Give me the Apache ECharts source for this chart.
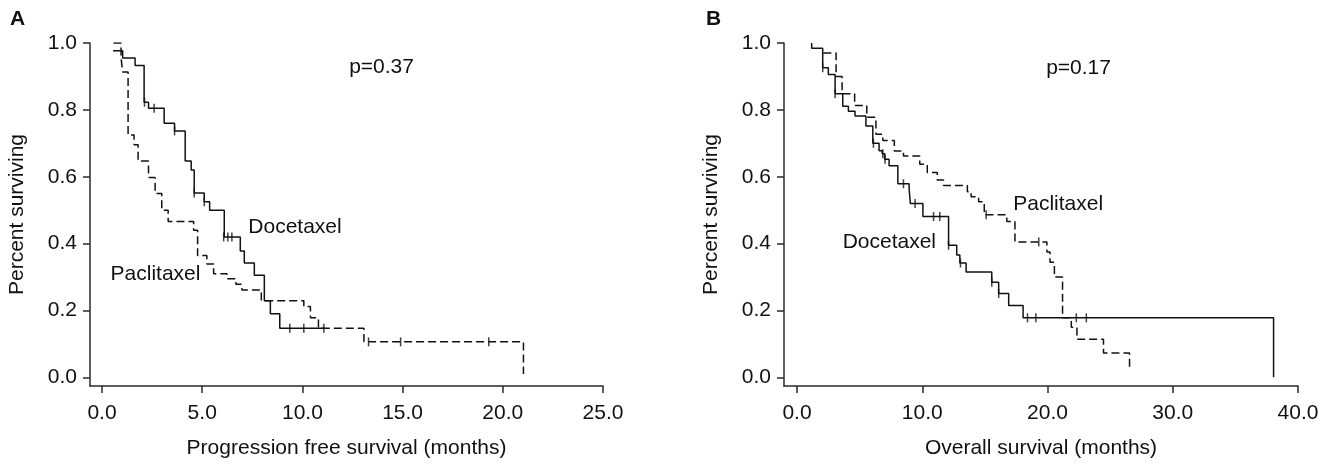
<!DOCTYPE html>
<html><head><meta charset="utf-8">
<script src="https://cdn.jsdelivr.net/npm/echarts@6/dist/echarts.min.js"></script>
<style>html,body{margin:0;padding:0;background:#fff}#c{width:1333px;height:464px}</style>
</head><body><div id="c"></div>
<script>
// ---- Panel A: progression free survival (months) ----
const pfsDocT = [0.55, 1.03, 1.65, 2.1, 2.32, 3.1, 3.62, 4.15, 4.45, 4.6, 5.1, 5.37, 6.1, 6.9, 7.1, 7.6, 8.1, 8.4, 8.87, 11.07];
const pfsDocS = [0.977, 0.955, 0.933, 0.823, 0.805, 0.76, 0.737, 0.647, 0.62, 0.551, 0.525, 0.50, 0.42, 0.378, 0.342, 0.305, 0.229, 0.19, 0.147, 0.147];
const pfsDocCensT = [2.12, 2.6, 3.62, 4.6, 5.1, 6.07, 6.28, 6.48, 9.37, 10.07, 11.07];
const pfsDocCensS = [0.823, 0.805, 0.737, 0.551, 0.525, 0.42, 0.42, 0.42, 0.147, 0.147, 0.147];

const pfsPacT = [0.57, 0.95, 1.03, 1.3, 1.6, 1.8, 2.32, 2.65, 2.98, 3.3, 4.57, 4.77, 5.23, 5.57, 6.23, 6.68, 6.98, 7.95, 10.07, 10.4, 10.8, 13.07, 21.03];
const pfsPacS = [1.0, 0.955, 0.913, 0.725, 0.696, 0.647, 0.598, 0.55, 0.50, 0.466, 0.44, 0.364, 0.339, 0.31, 0.295, 0.278, 0.261, 0.229, 0.212, 0.178, 0.147, 0.106, 0.01];
const pfsPacCensT = [13.3, 14.9, 19.3];
const pfsPacCensS = [0.106, 0.106, 0.106];

// ---- Panel B: overall survival (months) ----
const osDocT = [1.17, 1.17, 2.05, 2.5, 3.04, 3.65, 4.1, 4.63, 5.5, 6.05, 6.55, 6.8, 7.0, 7.35, 8.05, 8.95, 9.05, 10.05, 12.1, 12.75, 13.0, 13.5, 15.55, 16.1, 16.9, 18.05, 38.05];
const osDocS = [1.0, 0.984, 0.926, 0.906, 0.848, 0.811, 0.796, 0.782, 0.752, 0.70, 0.678, 0.669, 0.652, 0.633, 0.579, 0.564, 0.52, 0.481, 0.395, 0.366, 0.342, 0.315, 0.284, 0.251, 0.215, 0.178, 0.0];
const osDocCensT = [2.05, 3.04, 6.1, 6.85, 7.03, 8.5, 9.43, 10.9, 11.4, 12.1, 13.05, 15.55, 16.1, 18.4, 19.07, 22.3, 23.1];
const osDocCensS = [0.926, 0.848, 0.70, 0.669, 0.652, 0.579, 0.52, 0.481, 0.481, 0.395, 0.342, 0.284, 0.251, 0.178, 0.178, 0.178, 0.178];

const osPacT = [2.1, 3.12, 3.6, 4.6, 5.57, 6.3, 6.85, 7.77, 8.5, 9.8, 10.4, 11.2, 11.7, 13.6, 13.9, 14.5, 14.95, 16.75, 17.4, 19.95, 20.2, 20.55, 21.2, 21.9, 22.35, 24.47, 26.55];
const osPacS = [0.97, 0.90, 0.848, 0.813, 0.778, 0.727, 0.708, 0.677, 0.662, 0.637, 0.613, 0.59, 0.574, 0.555, 0.54, 0.525, 0.486, 0.466, 0.405, 0.375, 0.344, 0.30, 0.178, 0.15, 0.114, 0.073, 0.031];
const osPacCensT = [15.1, 19.3];
const osPacCensS = [0.486, 0.405];

// ---- tick labels ----
const pfsXTicks = [0, 5, 10, 15, 20, 25];
const osXTicks = [0, 10, 20, 30, 40];
const yTicks = [0, 0.2, 0.4, 0.6, 0.8, 1.0];

// ---- text annotations (data coordinates) ----
const annA = [{name: 'p=0.37', value: [13.95, 0.928]}, {name: 'Docetaxel', value: [9.63, 0.449]}, {name: 'Paclitaxel', value: [2.67, 0.309]}];
const annB = [{name: 'p=0.17', value: [22.48, 0.925]}, {name: 'Paclitaxel', value: [20.85, 0.518]}, {name: 'Docetaxel', value: [7.37, 0.403]}];

const FONT = '"Liberation Sans", Arial, sans-serif';
const FS = 21;
const INK = '#111';
const AX = '#2a2a2a';
const zip = (t, s) => t.map((v, i) => [v, s[i]]);

function xAx(gi, min, max, ticks, name) {
  return {
    gridIndex: gi, type: 'value', min: min, max: max, name: name,
    nameLocation: 'middle', nameGap: 52,
    nameTextStyle: {fontSize: FS, color: INK, fontFamily: FONT},
    axisLine: {show: true, onZero: false, lineStyle: {color: AX, width: 1.5}},
    axisTick: {show: true, inside: false, length: 7, lineStyle: {color: AX, width: 1.5}, customValues: ticks},
    axisLabel: {show: true, margin: 17, fontSize: FS, color: INK, fontFamily: FONT, customValues: ticks,
      formatter: v => Number(v).toFixed(1)},
    splitLine: {show: false}
  };
}
function yAx(gi) {
  return {
    gridIndex: gi, type: 'value', min: -0.026, max: 1.0, name: 'Percent surviving',
    nameLocation: 'middle', nameGap: 62,
    nameTextStyle: {fontSize: FS, color: INK, fontFamily: FONT},
    axisLine: {show: true, onZero: false, lineStyle: {color: AX, width: 1.5}},
    axisTick: {show: true, inside: false, length: 7, lineStyle: {color: AX, width: 1.5}, customValues: yTicks},
    axisLabel: {show: true, margin: 13, fontSize: FS, color: INK, fontFamily: FONT, customValues: yTicks,
      formatter: v => Number(v).toFixed(1)},
    splitLine: {show: false}
  };
}
function curve(gi, t, s, dashed) {
  return {
    type: 'line', xAxisIndex: gi, yAxisIndex: gi, step: 'end', symbol: 'none', silent: true,
    data: zip(t, s), animation: false,
    lineStyle: {color: INK, width: 1.5, type: dashed ? [8, 4] : 'solid'}
  };
}
function cens(gi, t, s) {
  return {
    type: 'scatter', xAxisIndex: gi, yAxisIndex: gi, symbol: 'rect', symbolSize: [1.5, 9], silent: true,
    data: zip(t, s), itemStyle: {color: INK}, animation: false, z: 3
  };
}
function ann(gi, data) {
  return {
    type: 'scatter', xAxisIndex: gi, yAxisIndex: gi, symbolSize: 0, silent: true, animation: false,
    data: data, itemStyle: {color: INK, opacity: 1},
    label: {show: true, position: [0, 0], align: 'center', verticalAlign: 'middle', formatter: '{b}',
      fontSize: FS, color: INK, fontFamily: FONT, textBorderWidth: 0, opacity: 1},
    labelLayout: {hideOverlap: false}
  };
}

const chart = echarts.init(document.getElementById('c'), null, {renderer: 'canvas'});
chart.setOption({
  animation: false,
  backgroundColor: '#fff',
  grid: [
    {left: 90, top: 43, width: 513, height: 350},
    {left: 784, top: 43, width: 514, height: 350}
  ],
  xAxis: [
    xAx(0, -0.6, 25, pfsXTicks, 'Progression free survival (months)'),
    xAx(1, -1.04, 40, osXTicks, 'Overall survival (months)')
  ],
  yAxis: [yAx(0), yAx(1)],
  graphic: [
    {type: 'text', left: 10, top: 9, style: {text: 'A', font: 'bold 21px "Liberation Sans", Arial, sans-serif', fill: '#111'}},
    {type: 'text', left: 706, top: 9, style: {text: 'B', font: 'bold 21px "Liberation Sans", Arial, sans-serif', fill: '#111'}}
  ],
  series: [
    curve(0, pfsDocT, pfsDocS, false),
    curve(0, pfsPacT, pfsPacS, true),
    cens(0, pfsDocCensT, pfsDocCensS),
    cens(0, pfsPacCensT, pfsPacCensS),
    ann(0, annA),
    curve(1, osDocT, osDocS, false),
    curve(1, osPacT, osPacS, true),
    cens(1, osDocCensT, osDocCensS),
    cens(1, osPacCensT, osPacCensS),
    ann(1, annB)
  ]
});
</script>
</body></html>
